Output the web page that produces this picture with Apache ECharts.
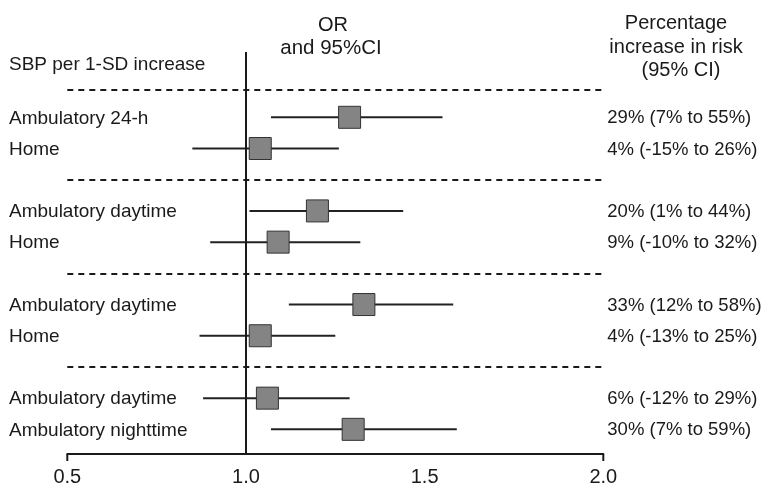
<!DOCTYPE html>
<html><head><meta charset="utf-8">
<script src="https://cdn.jsdelivr.net/npm/echarts@6/dist/echarts.min.js"></script>
<style>html,body{margin:0;padding:0;background:#fff}#c{width:762px;height:487px}</style>
</head><body><div id="c"></div>
<script>
const labels = ["Ambulatory 24-h","Home","Ambulatory daytime","Home","Ambulatory daytime","Home","Ambulatory daytime","Ambulatory nighttime"];
const orValues = [1.29,1.04,1.20,1.09,1.33,1.04,1.06,1.30];
const ciLow = [1.07,0.85,1.01,0.90,1.12,0.87,0.88,1.07];
const ciHigh = [1.55,1.26,1.44,1.32,1.58,1.25,1.29,1.59];
const pctText = ["29% (7% to 55%)","4% (-15% to 26%)","20% (1% to 44%)","9% (-10% to 32%)","33% (12% to 58%)","4% (-13% to 25%)","6% (-12% to 29%)","30% (7% to 59%)"];
const xTicks = [0.5,1.0,1.5,2.0];
const groupSize = 2;

const FONT = "'Liberation Sans', Arial, sans-serif";
const slot = i => Math.floor(i / groupSize) * (groupSize + 1) + (i % groupSize) + 1;
const nGroups = Math.ceil(labels.length / groupSize);
const sepSlots = [0.13];
for (let g = 1; g < nGroups; g++) sepSlots.push(g * (groupSize + 1));

const rows = labels.map((l, i) => [orValues[i], slot(i), ciLow[i], ciHigh[i], i]);
const xMin = xTicks[0], xMax = xTicks[xTicks.length - 1];
const yMin = -1.093, yMax = 11.79;

const chart = echarts.init(document.getElementById('c'), null, {renderer: 'canvas'});
chart.setOption({
  animation: false,
  backgroundColor: '#fff',
  grid: {left: 67.3, right: 158.7, top: 52, bottom: 33},
  xAxis: {
    type: 'value', min: xMin, max: xMax, interval: 0.5, position: 'bottom',
    splitLine: {show: false},
    axisLine: {show: true, onZero: false, lineStyle: {color: '#1a1a1a', width: 2}},
    axisTick: {show: false},
    axisLabel: {fontSize: 20, color: '#1a1a1a', fontFamily: FONT, margin: 13, formatter: v => v.toFixed(1)}
  },
  yAxis: {type: 'value', inverse: true, min: yMin, max: yMax, show: false},
  graphic: [
    {type: 'text', x: 333, y: 25, style: {text: 'OR', font: '20px ' + FONT, fill: '#1a1a1a', textAlign: 'center', textVerticalAlign: 'middle'}},
    {type: 'text', x: 331, y: 48, style: {text: 'and 95%CI', font: '20.5px ' + FONT, fill: '#1a1a1a', textAlign: 'center', textVerticalAlign: 'middle'}},
    {type: 'text', x: 9, y: 65, style: {text: 'SBP per 1-SD increase', font: '19px ' + FONT, fill: '#1a1a1a', textAlign: 'left', textVerticalAlign: 'middle'}},
    {type: 'text', x: 676, y: 23, style: {text: 'Percentage', font: '20px ' + FONT, fill: '#1a1a1a', textAlign: 'center', textVerticalAlign: 'middle'}},
    {type: 'text', x: 676, y: 47, style: {text: 'increase in risk', font: '20px ' + FONT, fill: '#1a1a1a', textAlign: 'center', textVerticalAlign: 'middle'}},
    {type: 'text', x: 681, y: 70, style: {text: '(95% CI)', font: '20px ' + FONT, fill: '#1a1a1a', textAlign: 'center', textVerticalAlign: 'middle'}}
  ],
  series: [
    {
      type: 'custom', name: 'ci', data: rows, z: 2,
      renderItem: (params, api) => {
        const y = api.value(1);
        const a = api.coord([api.value(2), y]);
        const b = api.coord([api.value(3), y]);
        return {type: 'line', shape: {x1: a[0], y1: a[1], x2: b[0], y2: b[1]}, style: {stroke: '#222', lineWidth: 2}};
      }
    },
    {
      type: 'scatter', name: 'OR', data: rows.map(r => [r[0], r[1]]), z: 4,
      symbol: 'rect', symbolSize: 22,
      itemStyle: {color: '#848484', borderColor: '#333', borderWidth: 1, opacity: 1},
      markLine: {
        silent: true, symbol: 'none', label: {show: false},
        data: [{xAxis: 1, lineStyle: {type: 'solid', color: '#1a1a1a', width: 2}}]
          .concat(sepSlots.map(s => ({yAxis: s, lineStyle: {type: [6, 5], color: '#1a1a1a', width: 2}})))
      }
    },
    {
      type: 'custom', name: 'leftLabels', data: rows, z: 5, clip: false,
      renderItem: (params, api) => {
        const p = api.coord([xMin, api.value(1)]);
        return {type: 'text', x: 9, y: p[1] + 1, style: {text: labels[api.value(4)], font: '19px ' + FONT, fill: '#1a1a1a', textAlign: 'left', textVerticalAlign: 'middle'}};
      }
    },
    {
      type: 'custom', name: 'rightLabels', data: rows, z: 5, clip: false,
      renderItem: (params, api) => {
        const p = api.coord([xMax, api.value(1)]);
        return {type: 'text', x: p[0] + 4, y: p[1] + 1, style: {text: pctText[api.value(4)], font: '18.5px ' + FONT, fill: '#1a1a1a', textAlign: 'left', textVerticalAlign: 'middle'}};
      }
    },
    {
      type: 'custom', name: 'endTicks', data: [[xMin], [xMax]], z: 5, clip: false,
      renderItem: (params, api) => {
        const p = api.coord([api.value(0), yMax]);
        return {type: 'line', shape: {x1: p[0], y1: p[1], x2: p[0], y2: p[1] + 7}, style: {stroke: '#1a1a1a', lineWidth: 2}};
      }
    }
  ]
});
</script></body></html>
